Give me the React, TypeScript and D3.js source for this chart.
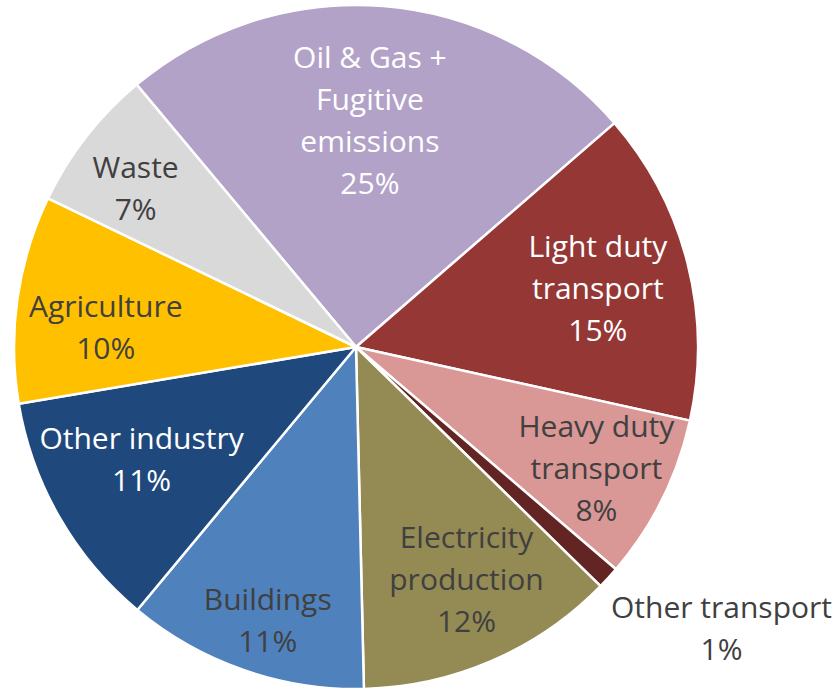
import React from "react";
import * as d3 from "d3";

const categories: string[] = [
  "Oil & Gas + Fugitive emissions",
  "Light duty transport",
  "Heavy duty transport",
  "Other transport",
  "Electricity production",
  "Buildings",
  "Other industry",
  "Agriculture",
  "Waste",
];
const values: number[] = [24.7, 14.8, 7.8, 1.06, 12.3, 11.4, 11.3, 9.8, 6.75];
const labelLines: string[][] = [
  ["Oil & Gas +", "Fugitive", "emissions"],
  ["Light duty", "transport"],
  ["Heavy duty", "transport"],
  ["Other transport"],
  ["Electricity", "production"],
  ["Buildings"],
  ["Other industry"],
  ["Agriculture"],
  ["Waste"],
];

// styling / layout (kept separate from data)
const colors = ["#B3A2C7", "#953735", "#D99795", "#632523", "#948A54", "#4F81BD", "#1F497D", "#FFC000", "#D9D9D9"];
const textColors = ["#FFFFFF", "#FFFFFF", "#404040", "#404040", "#404040", "#404040", "#FFFFFF", "#404040", "#404040"];
// label placement: radius as fraction of pie radius, angular nudge (deg) from slice mid
const labelRadius = [0.665, 0.728, 0.787, 1.348, 0.751, 0.839, 0.708, 0.734, 0.795];
const labelNudge = [-1.1, 0.5, 0.25, -4.9, -2, -1.3, 2.2, -3.7, -2.1];

const W = 836;
const H = 689;
const CX = 356;
const CY = 347;
const R = 342;
const START_DEG = -39.9;
const FONT = 30;
const LINE_H = 42;

export default function App() {
  const total = d3.sum(values);
  const pie = d3
    .pie<number>()
    .sort(null)
    .value((d) => d)
    .startAngle((START_DEG * Math.PI) / 180)
    .endAngle((START_DEG * Math.PI) / 180 + 2 * Math.PI);
  const arcs = pie(values);
  const arc = d3.arc<d3.PieArcDatum<number>>().innerRadius(0).outerRadius(R);
  const pct = (v: number) => `${Math.round((v / total) * 100)}%`;

  return (
    <svg
      width={W}
      height={H}
      style={{ position: "absolute", left: 0, top: 0, background: "#fff" }}
      fontFamily="'Open Sans', 'Noto Sans', sans-serif"
    >
      <g transform={`translate(${CX},${CY})`}>
        {arcs.map((a, i) => (
          <path key={categories[i]} d={arc(a) || ""} fill={colors[i]} stroke="#fff" strokeWidth={2.5} strokeLinejoin="round" />
        ))}
        {arcs.map((a, i) => {
          const mid = (a.startAngle + a.endAngle) / 2 + (labelNudge[i] * Math.PI) / 180;
          const r = R * labelRadius[i];
          const x = r * Math.sin(mid);
          const y = -r * Math.cos(mid);
          const lines = [...labelLines[i], pct(values[i])];
          const n = lines.length;
          return (
            <text key={"t" + i} x={x} y={y} textAnchor="middle" fill={textColors[i]} fontSize={FONT}>
              {lines.map((ln, j) => (
                <tspan key={j} x={x} y={y + (j - (n - 1) / 2) * LINE_H} dy="0.36em">
                  {ln}
                </tspan>
              ))}
            </text>
          );
        })}
      </g>
    </svg>
  );
}
